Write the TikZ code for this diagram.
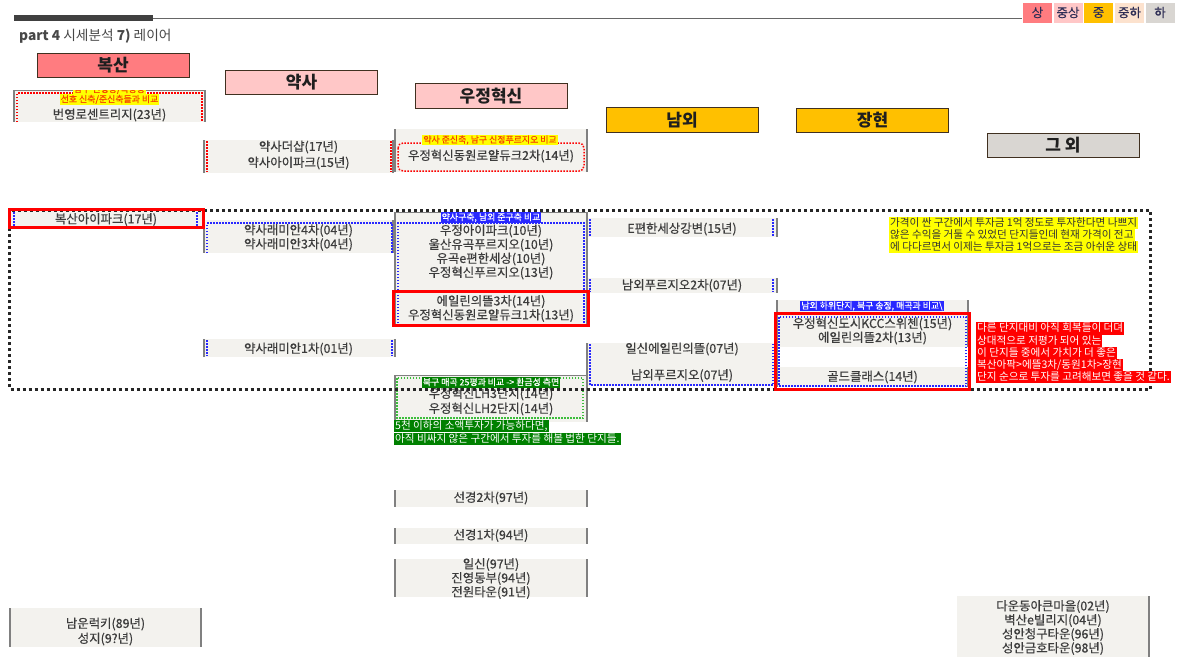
\documentclass[tikz,border=0pt]{standalone}
\usepackage{fontspec}
\setmainfont{Noto Sans CJK KR}
\newfontfamily\aptfont[FakeBold=0.5]{Noto Sans CJK KR}
\usepackage{tikz}
\usetikzlibrary{calc}
\definecolor{hdrline}{RGB}{64,48,32}
\definecolor{sangred}{RGB}{255,124,128}
\definecolor{pinkmid}{RGB}{255,199,199}
\definecolor{goldmid}{RGB}{255,192,0}
\definecolor{peachlow}{RGB}{252,226,206}
\definecolor{graylow}{RGB}{217,214,210}
\definecolor{boxfill}{RGB}{243,242,238}
\definecolor{sidegray}{RGB}{128,128,128}
\definecolor{inktext}{RGB}{60,60,60}
\definecolor{dotblue}{RGB}{40,40,255}
\definecolor{dotgreen}{RGB}{60,190,60}
\definecolor{notegreen}{RGB}{0,128,0}
\definecolor{hiyellow}{RGB}{255,255,0}
\definecolor{hitext}{RGB}{245,70,0}
\definecolor{legendtext}{RGB}{45,45,85}
\tikzset{
	hdr/.style={draw=hdrline, line width=0.8pt, minimum width=152pt, minimum height=24.5pt, inner sep=0pt, font=\fontsize{17}{17}\selectfont\bfseries, text=black!88},
	legendcell/.style={minimum width=29pt, minimum height=20pt, inner sep=0pt, font=\aptfont\fontsize{12.5}{12.5}\selectfont, text=legendtext},
	aptlist/.style={align=center, inner sep=0pt, font=\aptfont\fontsize{12.4}{14}\selectfont, text=inktext},
	cmptag/.style={inner xsep=1pt, inner ysep=0pt, text height=8pt, text depth=2.3pt, font=\aptfont\fontsize{8.9}{8.9}\selectfont},
	noteline/.style={anchor=west, inner xsep=1pt, inner ysep=0.3pt, text height=8.8pt, text depth=2.8pt, font=\fontsize{10.6}{10.6}\selectfont},
	sideline/.style={draw=sidegray, line width=1.6pt},
	dotline/.style={line width=1.5pt, dash pattern=on 1.5pt off 1.5pt},
	hotbox/.style={draw=red, line width=3pt},
	bigdots/.style={draw=black!85, line width=3pt, dash pattern=on 3pt off 3pt}
}
\def\listbox(#1,#2)(#3,#4){\fill[boxfill] (#1,#2) rectangle (#3,#4); \draw[sideline] (#1,#2) -- (#1,#4); \draw[sideline] (#3,#2) -- (#3,#4);}

\begin{document}
\begin{tikzpicture}[x=1pt, y=-1pt]
	%%%%% START %%%%%
	\useasboundingbox[fill=white] (0, 0) rectangle (1178, 657);
	
	\fill[black!75] (14, 14.5) rectangle (153, 20.5);
	\draw[line width=1pt, color=black!60] (153, 18) -- (1022, 18);
	\node[anchor=west, inner sep=0pt, font=\fontsize{13.7}{13.7}\selectfont, text=black!72] (title) at (19, 36) {\textbf{part 4} 시세분석 \textbf{7)} 레이어};
	
	\foreach \lx/\lc/\lt [count=\li] in {1037.5/sangred/상, 1068/pinkmid/중상, 1098.5/goldmid/중, 1129.5/peachlow/중하, 1160/graylow/하}
		\node[legendcell, fill=\lc] (lg\li) at (\lx, 12.5) {\lt};
	
	\node[hdr, fill=sangred] (hbs) at (113, 65.5) {복산};
	\node[hdr, fill=pinkmid] (hys) at (301.5, 82.5) {약사};
	\node[hdr, fill=pinkmid] (hwj) at (491, 96) {우정혁신};
	\node[hdr, fill=goldmid] (hnw) at (682, 120) {남외};
	\node[hdr, fill=goldmid] (hjh) at (872.5, 120.5) {장현};
	\node[hdr, fill=graylow] (het) at (1063, 145.5) {그 외};
	
	% boxes
	\listbox(14,90)(205,122)
	\draw[line width=1pt, color=sidegray] (14, 90) -- (205, 90);
	\listbox(10,211)(203,227)
	\listbox(10,608)(201,647)
	
	\listbox(204,140)(393,173)
	\listbox(204,220)(393,253)
	\listbox(204,339)(395,357)
	
	\listbox(395,129)(587,172)
	\listbox(395,212)(587,326)
	\draw[line width=1pt, color=sidegray] (395, 212) -- (587, 212);
	\listbox(395,375)(587,422)
	\draw[line width=1pt, color=sidegray] (395, 375) -- (587, 375);
	\listbox(395,490)(587,507)
	\listbox(395,528)(587,544)
	\listbox(395,559)(587,597)
	
	\listbox(587,218)(777,237)
	\listbox(587,278)(777,293)
	\listbox(587,343)(777,386)
	
	\listbox(777,300)(968,347)
	\listbox(777,367)(968,387)
	
	\fill[boxfill] (957, 596) rectangle (1149, 657);
	\draw[sideline] (1149, 596) -- (1149, 657);
	
	% dotted frames
	\draw[dotline, color=red] (17, 122) -- (17, 93) -- (202, 93) -- (202, 122);
	\draw[dotline, color=red] (207, 141) -- (207, 172);
	\draw[dotline, color=red] (391, 141) -- (391, 172);
	\draw[dotline, color=red, rounded corners=5pt] (398, 143) rectangle (584, 171);
	
	\draw[dotline, color=dotblue] (14, 212) -- (14, 226);
	\draw[dotline, color=dotblue] (197, 212) -- (197, 226);
	\draw[dotline, color=dotblue] (207, 253) -- (207, 223) -- (392, 223) -- (392, 253);
	\draw[dotline, color=dotblue] (207, 340) -- (207, 356);
	\draw[dotline, color=dotblue] (392, 340) -- (392, 356);
	\draw[dotline, color=dotblue] (398, 326) -- (398, 223) -- (584, 223) -- (584, 326);
	\draw[dotline, color=dotblue] (590, 219) -- (590, 236);
	\draw[dotline, color=dotblue] (773, 219) -- (773, 236);
	\draw[dotline, color=dotblue] (590, 279) -- (590, 292);
	\draw[dotline, color=dotblue] (773, 279) -- (773, 292);
	\draw[dotline, color=dotblue] (590, 344) -- (590, 385) -- (773, 385) -- (773, 344);
	\draw[dotline, color=dotblue] (779, 317) rectangle (966, 386);
	
	\draw[dotline, color=dotgreen] (397, 378) rectangle (583, 418);
	
	% comparison tags
	\begin{scope}
		\clip (14, 90.8) rectangle (205, 122);
		\node[cmptag, fill=hiyellow, text=hitext] (tbs1) at (109.5, 89.5) {남구 신정동/옥동동};
	\end{scope}
	\node[cmptag, fill=hiyellow, text=hitext] (tbs2) at (109.5, 99.5) {선호 신축/준신축들과 비교};
	\node[cmptag, fill=hiyellow, text=hitext] (twj1) at (490, 140) {약사 준신축, 남구 신정푸르지오 비교};
	\node[cmptag, fill=dotblue, text=white] (twj2) at (491, 217.5) {약사구축, 남외 준구축 비교};
	\node[cmptag, fill=notegreen, text=white] (twj3) at (491, 382.5) {북구 매곡 25평과 비교 -> 환금성 측면};
	\node[cmptag, fill=dotblue, text=white] (tjh1) at (872, 306) {남외 하위단지, 북구 송정, 매곡과 비교\textbackslash};
	
	% apartments
	\node[aptlist] (bs1) at (109.5, 115) {번영로센트리지(23년)};
	\node[aptlist] (bs2) at (106, 219.5) {복산아이파크(17년)};
	\node[aptlist] (bs3) at (105.5, 631.5) {남운럭키(89년)\\[1pt]성지(9?년)};
	
	\node[aptlist] (ys1) at (298.5, 155) {약사더샵(17년)\\[2pt]약사아이파크(15년)};
	\node[aptlist] (ys2) at (298.5, 237.5) {약사래미안4차(04년)\\약사래미안3차(04년)};
	\node[aptlist] (ys3) at (298.5, 349) {약사래미안1차(01년)};
	
	\node[aptlist] (wj1) at (491, 156) {우정혁신동원로얄듀크2차(14년)};
	\node[aptlist] (wj2) at (491, 252) {우정아이파크(10년)\\울산유곡푸르지오(10년)\\유곡e편한세상(10년)\\우정혁신푸르지오(13년)};
	\node[aptlist] (wj3) at (491, 308.5) {에일린의뜰3차(14년)\\우정혁신동원로얄듀크1차(13년)};
	\node[aptlist] (wj4) at (491, 401.5) {우정혁신LH3단지(14년)\\[1pt]우정혁신LH2단지(14년)};
	\node[aptlist] (wj5) at (491, 498) {선경2차(97년)};
	\node[aptlist] (wj6) at (491, 535.5) {선경1차(94년)};
	\node[aptlist] (wj7) at (491, 578.5) {일신(97년)\\진영동부(94년)\\전원타운(91년)};
	
	\node[aptlist] (nw1) at (682, 229) {E편한세상강변(15년)};
	\node[aptlist] (nw2) at (682, 285.5) {남외푸르지오2차(07년)};
	\node[aptlist] (nw3) at (682, 349) {일신에일린의뜰(07년)};
	\node[aptlist] (nw4) at (682, 375.5) {남외푸르지오(07년)};
	
	\node[aptlist] (jh1) at (872.5, 331) {우정혁신도시KCC스위첸(15년)\\에일린의뜰2차(13년)};
	\node[aptlist] (jh2) at (872.5, 377) {골드클래스(14년)};
	
	\node[aptlist] (et1) at (1053, 627.5) {다운동아큰마을(02년)\\벽산e빌리지(04년)\\성안청구타운(96년)\\성안금호타운(98년)};
	
	% frames
	\draw[bigdots] (9.5, 210) rectangle (1150, 389);
	\draw[hotbox] (9.5, 209.5) rectangle (203, 227.5);
	\draw[hotbox] (393.5, 291) rectangle (588, 325);
	\draw[hotbox] (775.5, 313.5) rectangle (969, 389.5);
	
	% notes
	\foreach \ny/\nt [count=\ni] in {223/가격이 싼 구간에서 투자금 1억 정도로 투자한다면 나쁘지, 235/않은 수익을 거둘 수 있었던 단지들인데 현재 가격이 전고, 247/에 다다르면서 이제는 투자금 1억으로는 조금 아쉬운 상태}
		\node[noteline, fill=hiyellow, text=black!80] (ny\ni) at (889, \ny) {\nt};
	
	\foreach \ny/\nt [count=\ni] in {328.5/다른 단지대비 아직 회복들이 더뎌, 341/상대적으로 저평가 되어 있는, 353/이 단지들 중에서 가치가 더 좋은, 365/{복산아팍>에뜰3차/동원1차>장현}, 377/단지 순으로 투자를 고려해보면 좋을 것 같다.}
		\node[noteline, fill=red, text=white] (nr\ni) at (976, \ny) {\nt};
	
	\node[noteline, fill=notegreen, text=white] (ng1) at (394, 426) {5천 이하의 소액투자가 가능하다면,};
	\node[noteline, fill=notegreen, text=white] (ng2) at (394, 439) {아직 비싸지 않은 구간에서 투자를 해볼 법한 단지들.};
	
	%%%%% END %%%%%
\end{tikzpicture}
\end{document}
